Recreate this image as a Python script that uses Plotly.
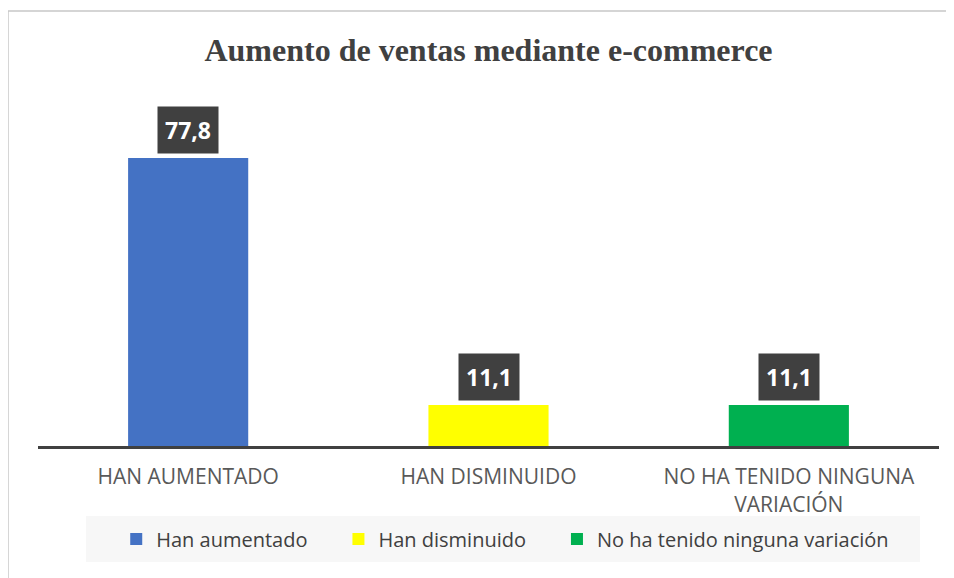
import plotly.graph_objects as go

categorias = ["HAN AUMENTADO", "HAN DISMINUIDO", "NO HA TENIDO NINGUNA<br>VARIACIÓN"]
leyenda = ["Han aumentado", "Han disminuido", "No ha tenido ninguna variación"]
valores = [77.8, 11.1, 11.1]
colores = ["#4472c4", "#ffff00", "#00b050"]

fig = go.Figure()
for cat, nom, val, col in zip(categorias, leyenda, valores, colores):
    fig.add_trace(go.Bar(x=[cat], y=[val], name=nom + "\u00a0" * 5, marker_color=col,
                         marker_line_width=0, width=0.4))
    # etiqueta oscura encima de cada barra
    fig.add_annotation(x=cat, y=val, text="<b>%s</b>" % f"{val:.1f}".replace(".", ","),
                       showarrow=False, yanchor="bottom", yshift=4,
                       bgcolor="#404040", borderpad=7,
                       font=dict(family="Open Sans", size=23, color="white"))

# marco gris del gráfico
fig.add_shape(type="rect", xref="paper", yref="paper", x0=-0.0333, x1=1.2, y0=-0.6, y1=1.257,
              line=dict(color="#c8c8c8", width=1.5), fillcolor="rgba(0,0,0,0)", layer="below")
# banda de fondo de la leyenda
fig.add_shape(type="rect", xref="paper", yref="paper", x0=0.0533, x1=0.979, y0=-0.335, y1=-0.2023,
              line_width=0, fillcolor="#f7f7f7", layer="below")

fig.update_layout(
    width=954, height=578,
    margin=dict(l=30, r=23, t=92, b=140),
    paper_bgcolor="white", plot_bgcolor="white",
    barmode="overlay",
    title=dict(text="<b>Aumento de ventas mediante e-commerce</b>", x=0.5, xanchor="center",
               xref="paper", y=0.927, yanchor="middle",
               font=dict(family="Liberation Serif", size=32, color="#404040")),
    xaxis=dict(showline=True, linecolor="#404040", linewidth=3, ticks="",
               ticklabelstandoff=10,
               tickfont=dict(family="Open Sans", size=21, color="#595959")),
    yaxis=dict(range=[0, 93.5], visible=False, showgrid=False),
    legend=dict(orientation="h", x=0.533, xanchor="center", y=-0.2688, yanchor="middle",
                bgcolor="rgba(0,0,0,0)", font=dict(family="Open Sans", size=20, color="#404040"),
                itemwidth=30, tracegroupgap=0),
    showlegend=True,
)

fig.write_html("out.html")
